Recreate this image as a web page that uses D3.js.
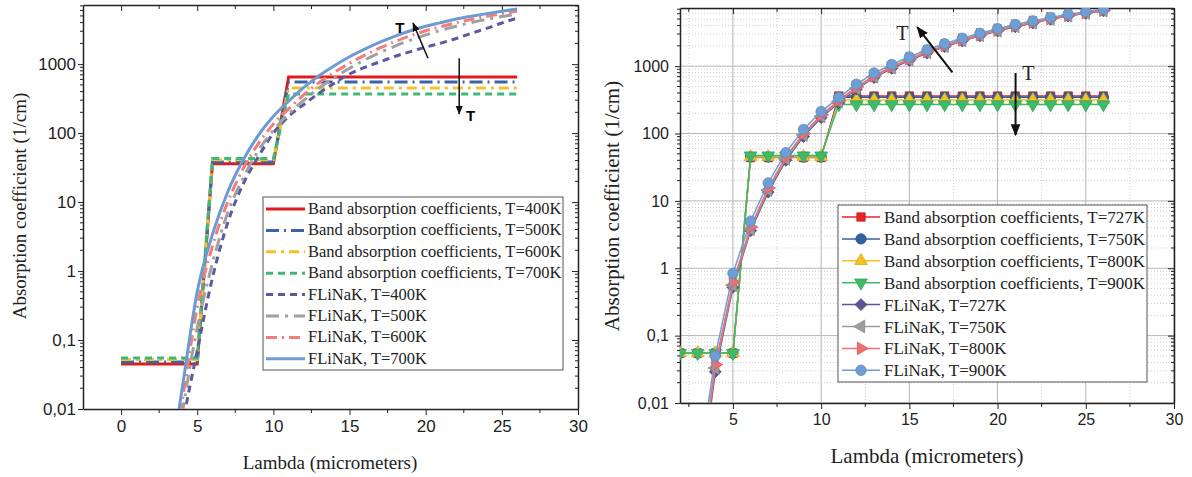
<!DOCTYPE html>
<meta charset="utf-8">
<svg width="1192" height="477"></svg>
<script src="https://d3js.org/d3.v7.min.js"></script>
<style>
    body { margin: 0; background: #fff; }
    .tick text { font-family: "Liberation Sans", Arial, sans-serif; fill: #222; }
</style>
<script>
    // ---------- data ----------
    // left panel
    var lamBandL = [0,1,2,3,4,5,6,7,8,9,10,11,12,13,14,15,16,17,18,19,20,21,22,23,24,25,26];
    var band400 = [0.045,0.045,0.045,0.045,0.045,0.045,36,36,36,36,36,650,650,650,650,650,650,650,650,650,650,650,650,650,650,650,650];
    var band500 = [0.048,0.048,0.048,0.048,0.048,0.048,38,38,38,38,38,550,550,550,550,550,550,550,550,550,550,550,550,550,550,550,550];
    var band600 = [0.052,0.052,0.052,0.052,0.052,0.052,41,41,41,41,41,450,450,450,450,450,450,450,450,450,450,450,450,450,450,450,450];
    var band700 = [0.055,0.055,0.055,0.055,0.055,0.055,43,43,43,43,43,370,370,370,370,370,370,370,370,370,370,370,370,370,370,370,370];

    var lamCurve = [3,4,5,6,7,8,9,10,11,12,13,14,15,16,17,18,19,20,21,22,23,24,25,26];
    var fl400 = [0.0001,0.005,0.07,0.8,5,18,45,100,175,260,380,530,720,900,1080,1300,1520,1760,2020,2350,2800,3300,3950,4650];
    var fl500 = [0.0002,0.008,0.15,1.3,7,22,55,110,190,300,450,640,870,1150,1470,1830,2230,2650,3100,3550,4000,4450,4900,5300];
    var fl600 = [0.0004,0.012,0.3,2.3,10,30,70,135,225,360,540,760,1030,1350,1720,2130,2580,3050,3500,3980,4450,4950,5400,5850];
    var fl700 = [0.0007,0.019,0.5,3.4,14,40,92,175,290,460,680,950,1280,1650,2080,2550,3050,3550,4000,4500,4950,5400,5850,6300];

    // right panel
    var lamBandR = [2,3,4,5,6,7,8,9,10,11,12,13,14,15,16,17,18,19,20,21,22,23,24,25,26];
    var bandR727 = [0.055,0.055,0.055,0.055,44,44,44,44,44,360,360,360,360,360,360,360,360,360,360,360,360,360,360,360,360];
    var bandR750 = [0.055,0.055,0.055,0.055,45,45,45,45,45,345,345,345,345,345,345,345,345,345,345,345,345,345,345,345,345];
    var bandR800 = [0.055,0.055,0.055,0.055,45,45,45,45,45,315,315,315,315,315,315,315,315,315,315,315,315,315,315,315,315];
    var bandR900 = [0.055,0.055,0.055,0.055,47,47,47,47,47,270,270,270,270,270,270,270,270,270,270,270,270,270,270,270,270];

    var flR727 = [0.0003,0.029,0.52,3.6,13.5,40,90,172,288,455,675,925,1215,1565,1945,2360,2820,3320,3840,4370,4950,5530,6080,6600];
    var flR750 = [0.0004,0.033,0.56,3.8,14.5,42,95,180,298,470,695,950,1245,1600,1980,2400,2870,3370,3900,4430,5020,5600,6150,6680];
    var flR800 = [0.0005,0.037,0.62,4.1,15.5,45,100,188,310,490,720,980,1280,1640,2030,2460,2930,3430,3970,4500,5100,5680,6230,6770];
    var flR900 = [0.0008,0.05,0.84,5,18.5,52,115,212,342,540,790,1060,1370,1750,2150,2600,3080,3600,4150,4700,5300,5900,6450,7000];

    var xTicks = [0, 5, 10, 15, 20, 25, 30];
    var yTicks = [0.01, 0.1, 1, 10, 100, 1000];
    var yTickLabels = ["0,01", "0,1", "1", "10", "100", "1000"];

    var namesL = ["Band absorption coefficients, T=400K", "Band absorption coefficients, T=500K",
        "Band absorption coefficients, T=600K", "Band absorption coefficients, T=700K",
        "FLiNaK, T=400K", "FLiNaK, T=500K", "FLiNaK, T=600K", "FLiNaK, T=700K"];
    var namesR = ["Band absorption coefficients, T=727K", "Band absorption coefficients, T=750K",
        "Band absorption coefficients, T=800K", "Band absorption coefficients, T=900K",
        "FLiNaK, T=727K", "FLiNaK, T=750K", "FLiNaK, T=800K", "FLiNaK, T=900K"];

    var SERIF = "'Liberation Serif', 'DejaVu Serif', serif";

    var svg = d3.select("svg");
    var defs = svg.append("defs");
    defs.append("marker").attr("id", "ah").attr("viewBox", "0 0 10 10")
        .attr("refX", 9).attr("refY", 5).attr("markerWidth", 6).attr("markerHeight", 6)
        .attr("orient", "auto")
        .append("path").attr("d", "M0,1L10,5L0,9Z").attr("fill", "#111");

    function serifText(sel, size) {
        return sel.attr("font-family", SERIF).attr("font-size", size).attr("fill", "#222");
    }

    function minorY(top) {
        var out = [];
        [0.01, 0.1, 1, 10, 100, 1000].forEach(function (d) {
            for (var k = 2; k <= 9; k++) if (d * k <= top) out.push(d * k);
        });
        return out;
    }

    // draws frame + axes for one panel
    function frame(x, y, o) {
        var g = svg.append("g");
        var x0 = x.range()[0], x1 = x.range()[1], y0 = y.range()[0], y1 = y.range()[1];
        var top = y.domain()[1];
        var majX = xTicks.filter(function (d) { return d >= x.domain()[0]; });
        var minX = [-2.5, 2.5, 7.5, 12.5, 17.5, 22.5, 27.5].filter(function (d) { return d > x.domain()[0]; });

        if (o.grid) {
            var gg = g.append("g");
            gg.selectAll(".mx").data(minX).join("line")
                .attr("x1", x).attr("x2", x).attr("y1", y0).attr("y2", y1)
                .attr("stroke", "#cfcfcf").attr("stroke-dasharray", "1,2");
            gg.selectAll(".my").data(minorY(top)).join("line")
                .attr("x1", x0).attr("x2", x1).attr("y1", y).attr("y2", y)
                .attr("stroke", "#cfcfcf").attr("stroke-dasharray", "1,2");
            gg.selectAll(".gx").data(majX).join("line")
                .attr("x1", x).attr("x2", x).attr("y1", y0).attr("y2", y1)
                .attr("stroke", "#b5b5b5").attr("stroke-width", 1);
            gg.selectAll(".gy").data(yTicks).join("line")
                .attr("x1", x0).attr("x2", x1).attr("y1", y).attr("y2", y)
                .attr("stroke", "#b5b5b5").attr("stroke-width", 1);
        }

        // bottom
        var ab = g.append("g").attr("transform", "translate(0," + y0 + ")")
            .call(d3.axisBottom(x).tickValues(majX).tickSize(6).tickPadding(5).tickSizeOuter(0));
        ab.selectAll("text").style("font-size", o.fs + "px");
        ab.selectAll(".mt").data(minX).join("line").attr("x1", x).attr("x2", x)
            .attr("y1", 0).attr("y2", 4).attr("stroke", "#222");
        // left
        var al = g.append("g").attr("transform", "translate(" + x0 + ",0)")
            .call(d3.axisLeft(y).tickValues(yTicks).tickSize(5).tickPadding(o.pad).tickSizeOuter(0)
                .tickFormat(function (d, i) { return yTickLabels[i]; }));
        al.selectAll("text").style("font-size", o.fs + "px");
        al.selectAll(".mt").data(minorY(top)).join("line").attr("y1", y).attr("y2", y)
            .attr("x1", 0).attr("x2", -3).attr("stroke", "#222");
        // top, inward
        var at = g.append("g").attr("transform", "translate(0," + y1 + ")")
            .call(d3.axisTop(x).tickValues(majX).tickSize(-6).tickSizeOuter(0).tickFormat(""));
        at.selectAll(".mt").data(minX).join("line").attr("x1", x).attr("x2", x)
            .attr("y1", 0).attr("y2", 4).attr("stroke", "#222");
        // right, inward
        var ar = g.append("g").attr("transform", "translate(" + x1 + ",0)")
            .call(d3.axisRight(y).tickValues(yTicks).tickSize(-6).tickSizeOuter(0).tickFormat(""));
        ar.selectAll(".mt").data(minorY(top)).join("line").attr("y1", y).attr("y2", y)
            .attr("x1", 0).attr("x2", -3).attr("stroke", "#222");
        g.selectAll(".domain").attr("stroke", "#222").attr("stroke-width", 1.5);
        g.selectAll(".tick line").attr("stroke", "#222");
        return g;
    }

    // ================= LEFT PANEL =================
    var xL = d3.scaleLinear().domain([-2.5, 30]).range([83, 578]);
    var yL = d3.scaleLog().domain([0.01, 7200]).range([409, 5]);
    frame(xL, yL, { grid: false, fs: 17, pad: 2 });

    defs.append("clipPath").attr("id", "clipL").append("rect")
        .attr("x", 83).attr("y", 5).attr("width", 495).attr("height", 404);

    var seriesL = [
        { x: lamBandL, v: band400, c: "#e31a1c", dash: null },
        { x: lamBandL, v: band500, c: "#3b63a8", dash: "13,5,2,5" },
        { x: lamBandL, v: band600, c: "#f2c12e", dash: "10,5,3,5" },
        { x: lamBandL, v: band700, c: "#3cb878", dash: "7,5" },
        { x: lamCurve, v: fl400, c: "#5a5a9e", dash: "7,5", curve: true },
        { x: lamCurve, v: fl500, c: "#a0a0a0", dash: "13,6,3,6", curve: true },
        { x: lamCurve, v: fl600, c: "#f37c7c", dash: "11,5,2,5", curve: true },
        { x: lamCurve, v: fl700, c: "#6b9bd2", dash: null, curve: true }
    ];
    var gL = svg.append("g").attr("clip-path", "url(#clipL)");
    seriesL.forEach(function (s) {
        var line = d3.line().x(function (d) { return xL(d[0]); }).y(function (d) { return yL(d[1]); })
            .curve(s.curve ? d3.curveMonotoneX : d3.curveLinear);
        gL.append("path").datum(d3.zip(s.x, s.v)).attr("d", line)
            .attr("fill", "none").attr("stroke", s.c).attr("stroke-width", 3)
            .attr("stroke-dasharray", s.dash);
    });

    // legend left
    var lgL = svg.append("g").attr("transform", "translate(263,197)");
    lgL.append("rect").attr("width", 300).attr("height", 173).attr("fill", "#fff").attr("stroke", "#555");
    seriesL.forEach(function (s, i) {
        var yy = 12 + i * 21.4;
        lgL.append("line").attr("x1", 3).attr("x2", 42).attr("y1", yy).attr("y2", yy)
            .attr("stroke", s.c).attr("stroke-width", 3).attr("stroke-dasharray", s.dash);
        serifText(lgL.append("text"), 16.5).attr("x", 45).attr("y", yy + 5).text(namesL[i]);
    });

    // annotations left
    svg.append("line").attr("x1", xL(20.15)).attr("y1", yL(1220)).attr("x2", xL(19.17)).attr("y2", yL(3930))
        .attr("stroke", "#111").attr("stroke-width", 1.5).attr("marker-end", "url(#ah)");
    svg.append("line").attr("x1", xL(22.2)).attr("y1", yL(1220)).attr("x2", xL(22.2)).attr("y2", yL(190))
        .attr("stroke", "#111").attr("stroke-width", 1.5).attr("marker-end", "url(#ah)");
    svg.append("text").attr("x", xL(18.3)).attr("y", yL(3400)).attr("text-anchor", "middle").attr("dy", "0.35em")
        .style("font", "bold 15px 'Liberation Sans', Arial, sans-serif").text("T");
    svg.append("text").attr("x", xL(22.95)).attr("y", yL(180)).attr("text-anchor", "middle").attr("dy", "0.35em")
        .style("font", "bold 15px 'Liberation Sans', Arial, sans-serif").text("T");

    // axis titles left
    serifText(svg.append("text"), 19).attr("x", 330).attr("y", 469).attr("text-anchor", "middle")
        .text("Lambda (micrometers)");
    serifText(svg.append("text"), 19).attr("transform", "translate(26,206) rotate(-90)")
        .attr("text-anchor", "middle").text("Absorption coefficient (1/cm)");

    // ================= RIGHT PANEL =================
    var xR = d3.scaleLinear().domain([2, 30]).range([680, 1174]);
    var yR = d3.scaleLog().domain([0.01, 7300]).range([403, 8]);
    frame(xR, yR, { grid: true, fs: 16, pad: 6 });

    defs.append("clipPath").attr("id", "clipR").append("rect")
        .attr("x", 680).attr("y", 8).attr("width", 494).attr("height", 395);

    var seriesR = [
        { x: lamBandR, v: bandR727, c: "#e8232a", sym: d3.symbolSquare, rot: 0 },
        { x: lamBandR, v: bandR750, c: "#34609c", sym: d3.symbolCircle, rot: 0 },
        { x: lamBandR, v: bandR800, c: "#f4c21f", sym: d3.symbolTriangle, rot: 0 },
        { x: lamBandR, v: bandR900, c: "#3dbb6b", sym: d3.symbolTriangle, rot: 180 },
        { x: lamCurve, v: flR727, c: "#5b5593", sym: d3.symbolSquare, rot: 45 },
        { x: lamCurve, v: flR750, c: "#9c9c9c", sym: d3.symbolTriangle, rot: -90 },
        { x: lamCurve, v: flR800, c: "#f26d6d", sym: d3.symbolTriangle, rot: 90 },
        { x: lamCurve, v: flR900, c: "#6d9ed6", sym: d3.symbolCircle, rot: 0 }
    ];
    var gR = svg.append("g").attr("clip-path", "url(#clipR)");
    var lineR = d3.line().x(function (d) { return xR(d[0]); }).y(function (d) { return yR(d[1]); });
    seriesR.forEach(function (s) {
        var pts = d3.zip(s.x, s.v);
        gR.append("path").datum(pts).attr("d", lineR)
            .attr("fill", "none").attr("stroke", s.c).attr("stroke-width", 1.5);
        gR.selectAll(null).data(pts).join("path")
            .attr("transform", function (d) { return "translate(" + xR(d[0]) + "," + yR(d[1]) + ") rotate(" + s.rot + ")"; })
            .attr("d", d3.symbol().type(s.sym).size(s.sym === d3.symbolCircle ? 85 : 70))
            .attr("fill", s.c).attr("stroke", d3.color(s.c).darker(0.4)).attr("stroke-width", 0.8);
    });

    // legend right
    var lgR = svg.append("g").attr("transform", "translate(838,205)");
    lgR.append("rect").attr("width", 309).attr("height", 177).attr("fill", "#fff").attr("stroke", "#555");
    seriesR.forEach(function (s, i) {
        var yy = 12 + i * 21.9;
        lgR.append("line").attr("x1", 4).attr("x2", 42).attr("y1", yy).attr("y2", yy)
            .attr("stroke", s.c).attr("stroke-width", 1.5);
        lgR.append("path").attr("transform", "translate(23," + yy + ") rotate(" + s.rot + ")")
            .attr("d", d3.symbol().type(s.sym).size(s.sym === d3.symbolCircle ? 85 : 70))
            .attr("fill", s.c).attr("stroke", d3.color(s.c).darker(0.4)).attr("stroke-width", 0.8);
        serifText(lgR.append("text"), 17).attr("x", 46).attr("y", yy + 6).text(namesR[i]);
    });

    // annotations right
    svg.append("line").attr("x1", xR(17.44)).attr("y1", yR(810)).attr("x2", xR(15.45)).attr("y2", yR(3800))
        .attr("stroke", "#111").attr("stroke-width", 2).attr("marker-end", "url(#ah)");
    svg.append("line").attr("x1", xR(21.02)).attr("y1", yR(790)).attr("x2", xR(21.02)).attr("y2", yR(95))
        .attr("stroke", "#111").attr("stroke-width", 2).attr("marker-end", "url(#ah)");
    serifText(svg.append("text"), 20).attr("x", xR(14.6)).attr("y", yR(3100)).attr("text-anchor", "middle")
        .attr("dy", "0.35em").text("T");
    serifText(svg.append("text"), 20).attr("x", xR(21.75)).attr("y", yR(790)).attr("text-anchor", "middle")
        .attr("dy", "0.35em").text("T");

    // axis titles right
    serifText(svg.append("text"), 21).attr("x", 927).attr("y", 463).attr("text-anchor", "middle")
        .text("Lambda (micrometers)");
    serifText(svg.append("text"), 21).attr("transform", "translate(619,206) rotate(-90)")
        .attr("text-anchor", "middle").text("Absorption coefficient (1/cm)");
</script>
